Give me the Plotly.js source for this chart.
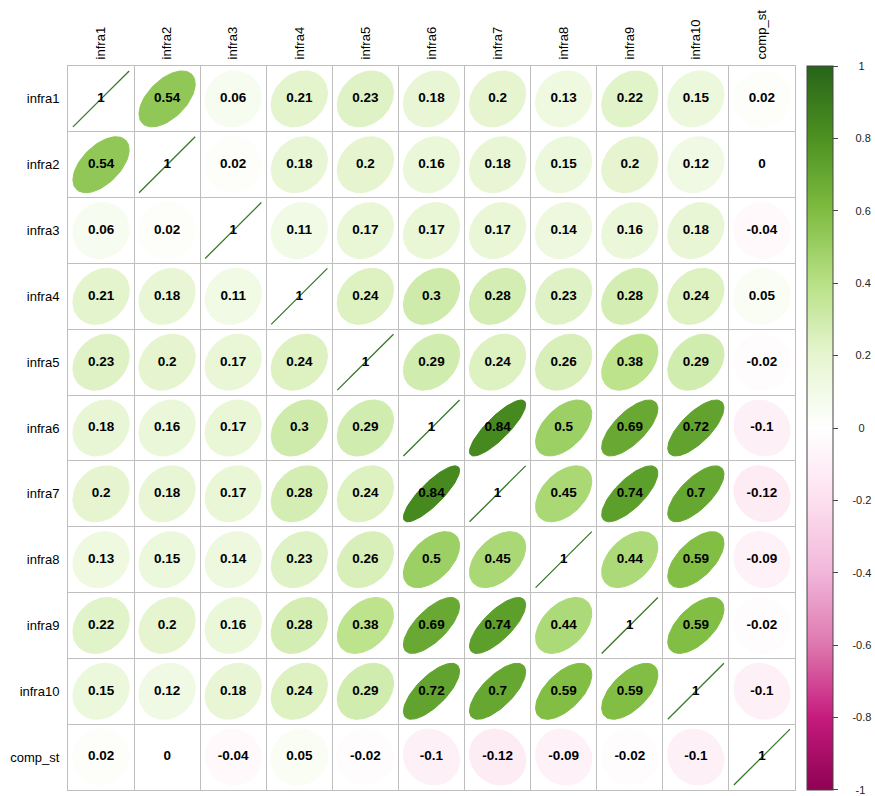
<!DOCTYPE html>
<html><head><meta charset="utf-8">
<script src="https://cdn.plot.ly/plotly-3.0.1.min.js"></script>
<style>html,body{margin:0;padding:0;background:#fff}</style>
</head><body><div id="chart" style="width:875px;height:796px"></div>
<script>
// ---- data ----
const variables = ["infra1","infra2","infra3","infra4","infra5","infra6","infra7","infra8","infra9","infra10","comp_st"];
const r_infra1  = [1, 0.54, 0.06, 0.21, 0.23, 0.18, 0.2, 0.13, 0.22, 0.15, 0.02];
const r_infra2  = [0.54, 1, 0.02, 0.18, 0.2, 0.16, 0.18, 0.15, 0.2, 0.12, 0];
const r_infra3  = [0.06, 0.02, 1, 0.11, 0.17, 0.17, 0.17, 0.14, 0.16, 0.18, -0.04];
const r_infra4  = [0.21, 0.18, 0.11, 1, 0.24, 0.3, 0.28, 0.23, 0.28, 0.24, 0.05];
const r_infra5  = [0.23, 0.2, 0.17, 0.24, 1, 0.29, 0.24, 0.26, 0.38, 0.29, -0.02];
const r_infra6  = [0.18, 0.16, 0.17, 0.3, 0.29, 1, 0.84, 0.5, 0.69, 0.72, -0.1];
const r_infra7  = [0.2, 0.18, 0.17, 0.28, 0.24, 0.84, 1, 0.45, 0.74, 0.7, -0.12];
const r_infra8  = [0.13, 0.15, 0.14, 0.23, 0.26, 0.5, 0.45, 1, 0.44, 0.59, -0.09];
const r_infra9  = [0.22, 0.2, 0.16, 0.28, 0.38, 0.69, 0.74, 0.44, 1, 0.59, -0.02];
const r_infra10 = [0.15, 0.12, 0.18, 0.24, 0.29, 0.72, 0.7, 0.59, 0.59, 1, -0.1];
const r_comp_st = [0.02, 0, -0.04, 0.05, -0.02, -0.1, -0.12, -0.09, -0.02, -0.1, 1];
const corrRows = [r_infra1, r_infra2, r_infra3, r_infra4, r_infra5, r_infra6, r_infra7, r_infra8, r_infra9, r_infra10, r_comp_st];
const paletteStops = ["#8E0152","#C51B7D","#DE77AE","#F1B6DA","#FDE0EF","#FFFFFF","#E6F5D0","#B8E186","#7FBC41","#4D9221","#276419"];
const colorbarTicks = [1, 0.8, 0.6, 0.4, 0.2, 0, -0.2, -0.4, -0.6, -0.8, -1];

// ---- helpers ----
function hexToRgb(h){return [parseInt(h.slice(1,3),16),parseInt(h.slice(3,5),16),parseInt(h.slice(5,7),16)];}
function colorFor(v){
  const t = (v+1)/2*(paletteStops.length-1);
  const i = Math.min(Math.floor(t), paletteStops.length-2);
  const f = t - i;
  const a = hexToRgb(paletteStops[i]), b = hexToRgb(paletteStops[i+1]);
  const c = a.map((x,k)=>Math.round(x+(b[k]-x)*f));
  return "rgb("+c.join(",")+")";
}
const ELL_SCALE = 0.85, NPTS = 80;

const traces = [];
corrRows.forEach((row, i) => {
  row.forEach((r, j) => {
    const xs = [], ys = [];
    const d = Math.acos(r);
    for (let k = 0; k <= NPTS; k++) {
      const a = 2*Math.PI*k/NPTS;
      xs.push((j+1) + ELL_SCALE*Math.cos(a + d/2)/2);
      ys.push((i+1) - ELL_SCALE*Math.cos(a - d/2)/2);
    }
    const col = colorFor(r);
    const lw = (r === 1) ? 1.3 : 1;
    const lc = (r === 1) ? "#3a7a2c" : col;
    traces.push({type:"scatter", mode:"lines", x:xs, y:ys, fill:"toself", fillcolor:col,
      line:{color:lc, width:lw}, hoverinfo:"skip", showlegend:false});
  });
});

// number labels
const tx = [], ty = [], tt = [];
corrRows.forEach((row, i) => row.forEach((r, j) => { tx.push(j+1); ty.push(i+1); tt.push(String(r)); }));
traces.push({type:"scatter", mode:"text", x:tx, y:ty, text:tt,
  textfont:{family:"Liberation Sans, Arial, sans-serif", size:13.5, color:"#000", weight:"bold"},
  hoverinfo:"skip", showlegend:false});

// colorbar
const NB = "\u00A0";
function padLabel(v){
  const s = String(v);
  const w = s.length;
  const n = w===1?6:(w===2?5:(w===3?5:4));
  return NB.repeat(n)+s;
}
traces.push({type:"scatter", mode:"markers", x:[null,null], y:[null,null], hoverinfo:"skip", showlegend:false,
  marker:{color:[-1,1], cmin:-1.0005, cmax:1.0005, showscale:true,
    colorscale: paletteStops.map((c,k)=>[k/(paletteStops.length-1), c]),
    colorbar:{x:(807-68)/727, xanchor:"left", xpad:0, ypad:0, y:0.5, yanchor:"middle", len:1, lenmode:"fraction",
      thickness:26, thicknessmode:"pixels", outlinewidth:1, outlinecolor:"#444",
      ticks:"outside", ticklen:5, tickwidth:1, tickcolor:"#444", ticklabeloverflow:"allow",
      tickmode:"array", tickvals:colorbarTicks, ticktext:colorbarTicks.map(padLabel),
      tickfont:{family:"Liberation Sans, Arial, sans-serif", size:11, color:"#222"}}}});

const grid = "#BEBEBE";
const layout = {
  width:875, height:796, margin:{l:68, r:80, t:66, b:6, autoexpand:false},
  paper_bgcolor:"#fff", plot_bgcolor:"#fff", showlegend:false,
  font:{family:"Liberation Sans, Arial, sans-serif", color:"#000"},
  xaxis:{range:[0.5,11.5], side:"top", tickmode:"array", tickvals:variables.map((_,k)=>k+1), ticktext:variables,
    tickangle:-90, tickfont:{size:13, color:"#000"}, ticks:"outside", ticklen:3, tickcolor:"rgba(0,0,0,0)",
    showgrid:false, zeroline:false, showline:true, mirror:true, linecolor:grid, linewidth:1, automargin:false,
    minor:{tick0:0.5, dtick:1, showgrid:true, gridcolor:grid, gridwidth:1}, fixedrange:true},
  yaxis:{range:[11.5,0.5], tickmode:"array", tickvals:variables.map((_,k)=>k+1), ticktext:variables,
    tickfont:{size:13, color:"#000"}, ticks:"outside", ticklen:5, tickcolor:"rgba(0,0,0,0)",
    showgrid:false, zeroline:false, showline:true, mirror:true, linecolor:grid, linewidth:1, automargin:false,
    minor:{tick0:0.5, dtick:1, showgrid:true, gridcolor:grid, gridwidth:1}, fixedrange:true}
};
Plotly.newPlot("chart", traces, layout, {displayModeBar:false, staticPlot:true});
</script></body></html>
